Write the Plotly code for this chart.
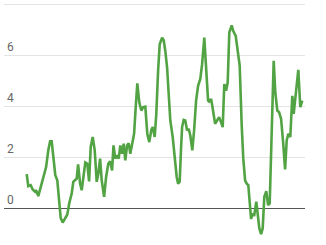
import plotly.graph_objects as go

# month index (approximate) and values
months = [0.0, 0.8, 2.0, 3.0, 4.2, 4.7, 5.8, 7.0, 8.3, 9.7, 10.8, 11.7, 12.5, 13.3, 14.3, 15.3,
          16.3, 17.0, 18.0, 19.2, 20.3, 21.3, 22.5, 23.3, 24.2, 25.0, 25.7, 26.7, 27.5, 28.3,
          29.3, 30.3, 31.2, 32.0, 33.0, 34.0, 35.0, 35.8, 36.7, 37.5, 38.7, 39.7, 40.8, 41.7,
          42.7, 43.4, 44.3, 45.2, 46.0, 46.8, 47.7, 48.5, 49.3, 50.2, 51.0, 51.8, 52.7, 53.7,
          54.3, 55.3, 56.3, 57.3, 58.2, 59.3, 60.3, 61.3, 62.3, 63.0, 64.0, 64.8, 65.7, 66.5,
          67.7, 68.5, 69.3, 70.2, 71.0, 71.8, 73.0, 74.0, 75.0, 75.7, 76.5, 77.2, 77.7, 78.5,
          79.3, 80.2, 81.0, 81.8, 82.8, 83.7, 84.7, 85.7, 86.8, 87.7, 88.8, 89.4, 90.2, 90.7,
          91.2, 92.2, 92.8, 94.2, 95.2, 96.2, 97.2, 98.0, 98.8, 99.7, 100.5, 101.3, 102.5,
          103.3, 104.5, 105.5, 106.5, 107.5, 108.3, 109.2, 110.0, 110.8, 111.7, 112.2, 112.8,
          113.8, 114.8, 115.5, 116.3, 117.2, 118.0, 118.8, 119.8, 120.7, 121.5, 122.5, 123.5,
          124.3, 125.3, 126.2, 127.2, 128.2, 129.2, 130.0, 130.8, 131.8, 132.8, 133.5, 134.3,
          135.8, 136.8, 137.8]

values = [1.33, 0.86, 0.90, 0.73, 0.64, 0.70, 0.47, 0.83, 1.22, 1.61, 2.27, 2.62, 2.62, 2.00,
          1.29, 1.09, 0.18, -0.39, -0.57, -0.39, -0.25, 0.20, 0.57, 1.03, 1.09, 1.16, 1.72,
          0.96, 0.70, 1.22, 1.79, 1.74, 1.05, 2.40, 2.79, 2.27, 1.03, 1.35, 1.94, 1.09, 0.44,
          1.22, 1.74, 1.84, 1.48, 2.46, 1.94, 2.07, 1.94, 2.46, 2.13, 2.53, 1.87, 2.46, 2.55,
          2.13, 2.53, 2.92, 3.70, 4.90, 4.15, 3.83, 3.96, 3.98, 2.92, 2.59, 3.07, 3.18, 2.79,
          3.70, 5.39, 6.43, 6.69, 6.59, 6.17, 5.52, 4.48, 3.44, 2.79, 2.00, 1.22, 0.96, 1.03,
          2.40, 3.18, 3.46, 3.44, 3.05, 3.11, 2.85, 2.27, 3.05, 4.22, 4.80, 5.07, 5.65, 6.69,
          5.90, 4.50, 4.22, 4.18, 4.28, 4.02, 3.31, 3.44, 3.57, 3.37, 3.18, 4.87, 4.61, 4.93,
          6.89, 7.17, 6.95, 6.76, 6.24, 5.59, 3.24, 1.94, 1.09, 0.96, 0.90, -0.01, -0.43, -0.25,
          -0.27, 0.25, -0.27, -0.79, -1.02, -0.79, 0.44, 0.66, 0.12, 0.18, 2.98, 5.78, 4.54,
          3.83, 3.76, 3.50, 2.59, 1.52, 2.66, 2.92, 2.79, 4.41, 3.70, 4.28, 5.43, 3.96, 4.22]

y_ticks = [0, 2, 4, 6, 8]
y_labels = ["0", "2", "4", "6", "8"]

fig = go.Figure()
fig.add_trace(go.Scatter(
    x=months, y=values, mode="lines",
    line=dict(color="#52a343", width=2.6),
    hoverinfo="skip",
))

fig.update_layout(
    width=326, height=245,
    margin=dict(l=4, r=21, t=0, b=0),
    paper_bgcolor="white", plot_bgcolor="white",
    showlegend=False,
    xaxis=dict(range=[-11.35, 139.15], showgrid=False, zeroline=False,
               showticklabels=False, showline=False, ticks=""),
    yaxis=dict(range=[-1.45, 8.17], tickvals=y_ticks, ticktext=y_labels,
               ticklabelposition="inside top", ticks="",
               showgrid=True, gridcolor="#e4e4e4", gridwidth=1,
               zeroline=True, zerolinecolor="#555555", zerolinewidth=1.3,
               showline=False,
               tickfont=dict(family="Roboto, Arial, sans-serif", size=12, color="#666666")),
)

fig.write_html("out.html")
